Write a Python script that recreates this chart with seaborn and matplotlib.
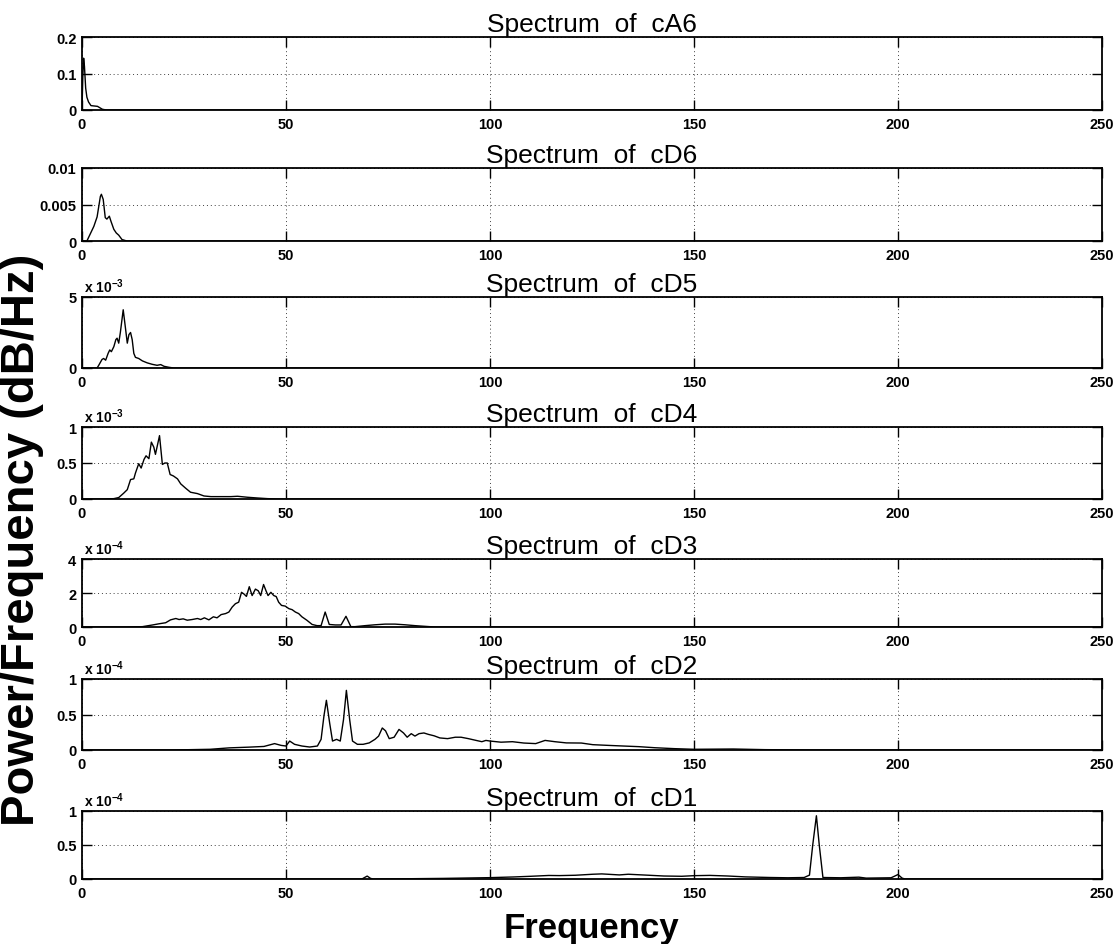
import numpy as np
import pandas as pd
import seaborn as sns
import matplotlib.pyplot as plt

# spectrum data (frequency in Hz, power)
f_ca6 = [0, 0.2, 0.4, 0.6, 0.9, 1.2, 1.6, 2.2, 3.0, 3.8, 4.4, 5.0, 6.0, 250]
p_ca6 = [0.0, 0.09, 0.142, 0.12, 0.06, 0.035, 0.022, 0.012, 0.011, 0.010, 0.006, 0.002, 0.0, 0.0]

f_cd6 = [0, 1.2, 2.9, 3.7, 4.5, 4.75, 5.2, 5.7, 6.1, 6.7, 7.1, 7.8, 8.4, 9.0, 9.8, 11, 250]
p_cd6 = [0, 0, 0.002, 0.0033, 0.0061, 0.0064, 0.0057, 0.0032, 0.003, 0.0034, 0.0027,
         0.0016, 0.0011, 0.0008, 0.0002, 0, 0]

f_cd5 = [0, 3.7, 4.1, 4.9, 5.3, 5.8, 6.4, 6.8, 7.2, 7.8, 8.3, 8.6, 9.0, 9.4, 10.1, 10.7,
         11.1, 11.5, 11.9, 12.3, 12.7, 13.1, 13.9, 14.8, 16.0, 17.2, 18.4, 19.3, 20.1,
         21.3, 22.5, 250]
p_cd5 = [0, 0, 0.19, 0.6, 0.67, 0.55, 1.03, 1.27, 1.15, 1.5, 2.0, 2.1, 1.75, 2.5, 4.1, 2.7,
         1.75, 2.35, 2.5, 2.0, 1.03, 0.75, 0.67, 0.5, 0.36, 0.26, 0.19, 0.24, 0.12,
         0.05, 0, 0]  # x 1e-3

f_cd4 = [0, 5.3, 7.8, 9.0, 10.2, 11.1, 11.9, 12.7, 13.1, 13.9, 14.5, 15.2, 15.7, 16.4,
         17.0, 17.6, 18.0, 19.0, 19.7, 20.3, 20.9, 21.6, 22.4, 23.4, 24.2, 25.4, 26.6,
         28.3, 29.9, 31.6, 34.0, 36.5, 38.1, 40.6, 43.0, 45.5, 48.0, 250]
p_cd4 = [0, 0, 0.005, 0.02, 0.08, 0.13, 0.27, 0.28, 0.36, 0.49, 0.43, 0.55, 0.60, 0.56,
         0.79, 0.72, 0.62, 0.88, 0.48, 0.50, 0.50, 0.34, 0.32, 0.28, 0.21, 0.15, 0.094,
         0.075, 0.042, 0.033, 0.033, 0.033, 0.038, 0.024, 0.014, 0.005, 0, 0]  # x 1e-3

f_cd3 = [0, 10.7, 14.8, 17.3, 18.9, 20.5, 21.7, 23.0, 23.8, 24.8, 25.8, 27.0, 28.3, 29.1,
         30.0, 31.1, 32.2, 33.1, 34.1, 35.2, 36.0, 36.8, 37.6, 38.4, 39.1, 39.7, 40.3,
         41.0, 41.7, 42.5, 43.2, 43.8, 44.5, 45.1, 45.6, 46.3, 47.0, 47.6, 48.2, 48.9,
         49.8, 50.7, 51.5, 52.3, 53.1, 53.9, 55.1, 56.4, 57.6, 58.6, 59.6, 60.6, 62.1,
         63.5, 64.7, 65.9, 66.9, 69.4, 71.8, 74.3, 76.7, 79.2, 81.6, 84.0, 86.5, 250]
p_cd3 = [0, 0, 0.02, 0.12, 0.19, 0.25, 0.42, 0.50, 0.44, 0.48, 0.40, 0.44, 0.50, 0.44,
         0.54, 0.42, 0.60, 0.54, 0.73, 0.79, 0.88, 1.17, 1.37, 1.46, 2.04, 1.94, 1.80,
         2.37, 1.85, 2.23, 2.13, 1.85, 2.50, 2.13, 1.85, 2.04, 1.85, 1.79, 1.46, 1.27,
         1.23, 1.08, 1.02, 0.88, 0.79, 0.60, 0.40, 0.15, 0.08, 0.08, 0.88, 0.15, 0.12,
         0.12, 0.63, 0.02, 0.02, 0.08, 0.13, 0.17, 0.17, 0.13, 0.08, 0.04, 0, 0]  # x 1e-4

f_cd2 = [0, 22, 31.4, 36.1, 40.8, 44.6, 47.2, 48.8, 50.0, 50.9, 52.1, 53.9, 55.8, 57.7,
         58.6, 59.3, 59.9, 60.7, 61.4, 62.4, 63.3, 64.1, 64.8, 65.6, 66.3, 67.5, 68.9,
         70.4, 71.8, 72.7, 73.6, 74.4, 75.3, 76.5, 77.7, 78.8, 79.7, 80.7, 81.6, 82.6,
         83.8, 84.9, 86.3, 87.7, 89.6, 91.5, 92.9, 94.7, 96.6, 98.0, 99.0, 100.0, 102.7,
         105.5, 108.3, 111.2, 113.5, 115.9, 118.7, 122.4, 125.2, 129.0, 132.7, 136.5,
         140.4, 145.2, 150.0, 159.6, 167.3, 178.8, 250]
p_cd2 = [0, 0, 0.01, 0.03, 0.04, 0.05, 0.09, 0.065, 0.056, 0.126, 0.08, 0.056, 0.042, 0.056,
         0.15, 0.48, 0.70, 0.38, 0.126, 0.15, 0.126, 0.43, 0.84, 0.43, 0.126, 0.08, 0.08,
         0.10, 0.15, 0.196, 0.31, 0.27, 0.16, 0.18, 0.29, 0.24, 0.18, 0.23, 0.196, 0.23,
         0.24, 0.22, 0.20, 0.17, 0.16, 0.18, 0.18, 0.16, 0.135, 0.117, 0.135, 0.126, 0.11,
         0.117, 0.098, 0.09, 0.135, 0.117, 0.10, 0.098, 0.075, 0.065, 0.056, 0.047,
         0.032, 0.019, 0.01, 0.014, 0.005, 0, 0]  # x 1e-4

f_cd1 = [0, 68.6, 69.2, 69.9, 70.7, 71.3, 80.0, 88.6, 100.0, 105.8, 110.0, 114.4, 117.0,
         120.9, 125.2, 127.4, 131.7, 133.9, 138.3, 142.6, 147.0, 150.0, 153.9, 158.3,
         162.6, 168.7, 173.0, 177.0, 178.3, 179.1, 180.0, 180.7, 181.6, 186.0, 190.4,
         192.2, 198.3, 199.1, 200.0, 201.0, 201.7, 250]
p_cd1 = [0, 0, 0.02, 0.043, 0.01, 0, 0.004, 0.009, 0.02, 0.03, 0.04, 0.052, 0.05,
         0.055, 0.07, 0.075, 0.06, 0.07, 0.057, 0.044, 0.04, 0.049, 0.053, 0.044,
         0.031, 0.022, 0.018, 0.022, 0.057, 0.5, 0.93, 0.5, 0.022, 0.018, 0.027,
         0.013, 0.018, 0.04, 0.066, 0.013, 0, 0]  # x 1e-4

titles = ['cA6', 'cD6', 'cD5', 'cD4', 'cD3', 'cD2', 'cD1']
freqs = [f_ca6, f_cd6, f_cd5, f_cd4, f_cd3, f_cd2, f_cd1]
powers = [p_ca6, p_cd6, p_cd5, p_cd4, p_cd3, p_cd2, p_cd1]
exps = [0, 0, -3, -3, -4, -4, -4]
yticks = [[0, 0.1, 0.2], [0, 0.005, 0.01], [0, 5], [0, 0.5, 1], [0, 2, 4],
          [0, 0.5, 1], [0, 0.5, 1]]
yticklabels = [['0', '0.1', '0.2'], ['0', '0.005', '0.01'], ['0', '5'],
               ['0', '0.5', '1'], ['0', '2', '4'], ['0', '0.5', '1'], ['0', '0.5', '1']]
xticks = [0, 50, 100, 150, 200, 250]

sns.set_style('ticks')
plt.rcParams['font.family'] = ['Liberation Sans', 'DejaVu Sans']
plt.rcParams['mathtext.fontset'] = 'custom'
plt.rcParams['mathtext.rm'] = 'Liberation Sans:bold'
plt.rcParams['mathtext.default'] = 'rm'
for k in ['text.color', 'axes.labelcolor', 'xtick.color', 'ytick.color']:
    plt.rcParams[k] = 'k'

W, H = 1116, 945
fig = plt.figure(figsize=(W / 100, H / 100), dpi=100)

# axes pixel positions (top, bottom)
tops = [38, 169, 298, 428, 560, 680, 812]
bots = [111, 242, 369, 500, 628, 751, 880]
left, right = 82, 1102

for i in range(7):
    ax = fig.add_axes([left / W, 1 - bots[i] / H, (right - left) / W, (bots[i] - tops[i]) / H])
    df = pd.DataFrame({'f': freqs[i], 'p': np.array(powers[i])})
    sns.lineplot(data=df, x='f', y='p', ax=ax, color='k', linewidth=1.0,
                 estimator=None, sort=False)
    ax.set_xlim(0, 250)
    ax.set_ylim(yticks[i][0], yticks[i][-1])
    ax.set_xticks(xticks)
    ax.set_xticklabels([str(t) for t in xticks], fontweight='bold', fontsize=10.5)
    ax.set_yticks(yticks[i])
    ax.set_yticklabels(yticklabels[i], fontweight='bold', fontsize=10.5)
    ax.tick_params(direction='in', length=7, width=1.0, top=True, right=True, color='k')
    ax.tick_params(axis='x', pad=5)
    ax.tick_params(axis='y', pad=4)
    ax.grid(True, linestyle=(0, (1, 3)), color='0.25', linewidth=0.7)
    for s in ax.spines.values():
        s.set_linewidth(1.3)
        s.set_color('k')
    ax.set_xlabel('')
    ax.set_ylabel('')
    ax.set_title('Spectrum  of  ' + titles[i], fontsize=19, pad=4, color='k')
    if exps[i] != 0:
        ax.text(0.002, 1.03, r'x 10$^{%d}$' % exps[i], transform=ax.transAxes,
                ha='left', va='bottom', fontsize=10, fontweight='bold')
    if i == 6:
        ax.set_xlabel('Frequency', fontsize=25, fontweight='bold', labelpad=8)

fig.text(22 / W, 1 - 540 / H, 'Power/Frequency (dB/Hz)', rotation=90, ha='center',
         va='center', fontsize=34, fontweight='bold')

fig.savefig('out.png', dpi=100)
